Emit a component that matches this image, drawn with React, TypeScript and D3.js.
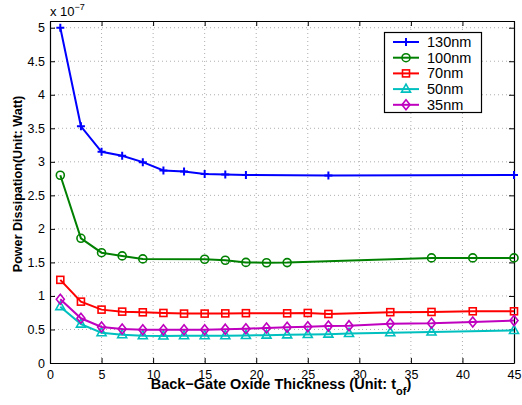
import React, { useEffect, useRef } from 'react'
import * as d3 from 'd3'

const xs130 = [1, 3, 5, 7, 9, 11, 13, 15, 17, 19, 27, 45]
const ys130 = [5.0, 3.53, 3.15, 3.09, 2.995, 2.87, 2.855, 2.82, 2.81, 2.805, 2.795, 2.805]

const xs100 = [1, 3, 5, 7, 9, 15, 17, 19, 21, 23, 37, 41, 45]
const ys100 = [2.8, 1.86, 1.645, 1.597, 1.552, 1.547, 1.532, 1.5, 1.495, 1.497, 1.567, 1.567, 1.567]

const xs70 = [1, 3, 5, 7, 9, 11, 13, 15, 17, 19, 23, 25, 27, 33, 37, 41, 45]
const ys70 = [1.24, 0.915, 0.796, 0.766, 0.756, 0.746, 0.737, 0.737, 0.74, 0.743, 0.741, 0.746, 0.731, 0.758, 0.761, 0.771, 0.771]

const xs50 = [1, 3, 5, 7, 9, 11, 13, 15, 17, 19, 21, 23, 25, 27, 29, 33, 37, 45]
const ys50 = [0.84, 0.58, 0.452, 0.422, 0.407, 0.403, 0.407, 0.407, 0.407, 0.41, 0.415, 0.42, 0.425, 0.43, 0.44, 0.452, 0.462, 0.485]

const xs35 = [1, 3, 5, 7, 9, 11, 13, 15, 17, 19, 21, 23, 25, 27, 29, 33, 37, 41, 45]
const ys35 = [0.95, 0.667, 0.537, 0.507, 0.497, 0.494, 0.497, 0.497, 0.505, 0.512, 0.522, 0.532, 0.54, 0.55, 0.557, 0.587, 0.592, 0.612, 0.632]

const seriesNames = ['130nm', '100nm', '70nm', '50nm', '35nm']
const seriesColors = ['#0000ff', '#008000', '#ff0000', '#00bfbf', '#bf00bf']
const seriesMarkers = ['plus', 'circle', 'square', 'triangle', 'diamond']

const xTicks = [0, 5, 10, 15, 20, 25, 30, 35, 40, 45]
const yTicks = [0, 0.5, 1, 1.5, 2, 2.5, 3, 3.5, 4, 4.5, 5]

const App = () => {
  const svgRef = useRef(null)

  useEffect(() => {
    const svg = d3.select(svgRef.current)
    svg.selectAll('*').remove()
    const width = 522
    const height = 405
    const margin = { top: 21, right: 8, bottom: 42, left: 50 }
    const font = 'Liberation Sans, Arial, Helvetica, sans-serif'

    const x = d3.scaleLinear().domain([0, 45]).range([margin.left, width - margin.right])
    const y = d3.scaleLinear().domain([0, 5.1]).range([height - margin.bottom, margin.top])

    const xs = [xs130, xs100, xs70, xs50, xs35]
    const ys = [ys130, ys100, ys70, ys50, ys35]

    // grid
    const grid = svg.append('g').attr('stroke', '#999').attr('stroke-width', 0.8).attr('stroke-dasharray', '1,3')
    grid.selectAll('.gx').data(xTicks.slice(1, -1)).enter().append('line')
      .attr('x1', (d) => x(d)).attr('x2', (d) => x(d))
      .attr('y1', y(5.1)).attr('y2', y(0))
    grid.selectAll('.gy').data(yTicks.slice(1)).enter().append('line')
      .attr('x1', x(0)).attr('x2', x(45))
      .attr('y1', (d) => y(d)).attr('y2', (d) => y(d))

    // axes with inward ticks
    const bottom = svg.append('g').attr('transform', `translate(0, ${y(0)})`)
      .call(d3.axisBottom(x).tickValues(xTicks).tickSizeInner(-5).tickSizeOuter(0).tickPadding(7))
    const left = svg.append('g').attr('transform', `translate(${x(0)}, 0)`)
      .call(d3.axisLeft(y).tickValues(yTicks).tickFormat((d) => String(d)).tickSizeInner(-5).tickSizeOuter(0).tickPadding(5))
    svg.append('g').attr('transform', `translate(0, ${y(5.1)})`)
      .call(d3.axisTop(x).tickValues(xTicks).tickSizeInner(-5).tickSizeOuter(0).tickFormat(() => ''))
    svg.append('g').attr('transform', `translate(${x(45)}, 0)`)
      .call(d3.axisRight(y).tickValues(yTicks).tickSizeInner(-5).tickSizeOuter(0).tickFormat(() => ''))
    svg.selectAll('.domain').attr('stroke', '#000').attr('stroke-width', 1.2)
    svg.selectAll('.tick line').attr('stroke', '#000')
    ;[bottom, left].forEach((g) => g.selectAll('text').attr('font-family', font).attr('font-size', 12.5).attr('fill', '#000'))

    // series
    const line = d3.line<[number, number]>().x((d) => x(d[0])).y((d) => y(d[1]))
    const drawMarker = (g, type, cx, cy, color) => {
      const s = 4
      if (type === 'plus') {
        g.append('path').attr('d', `M${cx - s},${cy}H${cx + s}M${cx},${cy - s}V${cy + s}`)
          .attr('stroke', color).attr('stroke-width', 2).attr('fill', 'none')
      } else if (type === 'circle') {
        g.append('circle').attr('cx', cx).attr('cy', cy).attr('r', s)
          .attr('stroke', color).attr('stroke-width', 1.6).attr('fill', 'none')
      } else if (type === 'square') {
        g.append('rect').attr('x', cx - s + 0.5).attr('y', cy - s + 0.5).attr('width', 2 * s - 1).attr('height', 2 * s - 1)
          .attr('stroke', color).attr('stroke-width', 1.6).attr('fill', 'none')
      } else if (type === 'triangle') {
        g.append('path').attr('d', `M${cx},${cy - s - 1}L${cx + s + 0.5},${cy + s - 1}L${cx - s - 0.5},${cy + s - 1}Z`)
          .attr('stroke', color).attr('stroke-width', 1.6).attr('fill', 'none')
      } else {
        g.append('path').attr('d', `M${cx},${cy - s - 1}L${cx + s},${cy}L${cx},${cy + s + 1}L${cx - s},${cy}Z`)
          .attr('stroke', color).attr('stroke-width', 1.6).attr('fill', 'none')
      }
    }

    seriesNames.forEach((name, i) => {
      const pts = xs[i].map((v, j) => [v, ys[i][j]] as [number, number])
      const g = svg.append('g')
      g.append('path').datum(pts).attr('d', line)
        .attr('fill', 'none').attr('stroke', seriesColors[i]).attr('stroke-width', 2)
      pts.forEach((p) => drawMarker(g, seriesMarkers[i], x(p[0]), y(p[1]), seriesColors[i]))
    })

    // exponent label
    const ex = svg.append('text').attr('x', 50).attr('y', 16).attr('font-family', font).attr('font-size', 13)
    ex.append('tspan').text('x 10')
    ex.append('tspan').attr('dy', -6).attr('font-size', 9).text('−7')

    // axis labels
    const xl = svg.append('text').attr('x', 281).attr('y', 389).attr('text-anchor', 'middle')
      .attr('font-family', font).attr('font-size', 14.5).attr('font-weight', 'bold')
    xl.append('tspan').text('Back−Gate Oxide Thickness (Unit: t')
    xl.append('tspan').attr('dy', 6).attr('font-size', 11).text('of')
    xl.append('tspan').attr('dy', -6).text(')')

    svg.append('text').attr('transform', `translate(22, 184) rotate(-90)`)
      .attr('text-anchor', 'middle').attr('font-family', font).attr('font-size', 12.6).attr('font-weight', 'bold')
      .text('Power Dissipation(Unit: Watt)')

    // legend
    const lg = svg.append('g')
    lg.append('rect').attr('x', 384.5).attr('y', 32.5).attr('width', 97).attr('height', 80)
      .attr('fill', '#fff').attr('stroke', '#000').attr('stroke-width', 1.2)
    seriesNames.forEach((name, i) => {
      const ly = 42 + i * 15.7
      lg.append('line').attr('x1', 393).attr('x2', 419).attr('y1', ly).attr('y2', ly)
        .attr('stroke', seriesColors[i]).attr('stroke-width', 2)
      drawMarker(lg, seriesMarkers[i], 406, ly, seriesColors[i])
      lg.append('text').attr('x', 427).attr('y', ly + 5).attr('font-family', font).attr('font-size', 14.5).text(name)
    })
  }, [])

  return <svg ref={svgRef} width={522} height={405} style={{ position: 'absolute', left: 0, top: 0, background: '#fff' }}></svg>
}

export default App
